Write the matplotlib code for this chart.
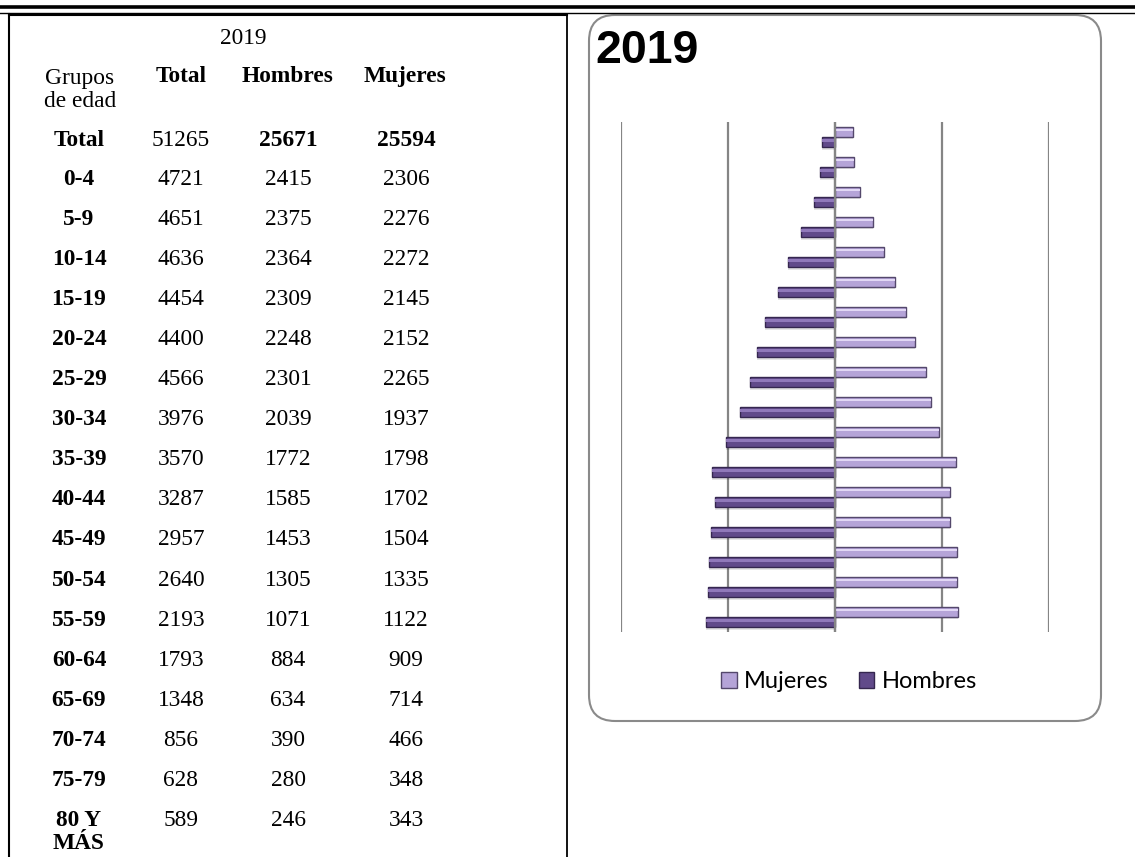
import matplotlib
matplotlib.use("Agg")
import matplotlib.pyplot as plt
from matplotlib.patches import FancyBboxPatch, Patch
from matplotlib.lines import Line2D

# ---------------- data ----------------
age_groups = ['0-4', '5-9', '10-14', '15-19', '20-24', '25-29', '30-34', '35-39',
              '40-44', '45-49', '50-54', '55-59', '60-64', '65-69', '70-74',
              '75-79', '80 Y\nMÁS']
total = [4721, 4651, 4636, 4454, 4400, 4566, 3976, 3570, 3287, 2957, 2640,
         2193, 1793, 1348, 856, 628, 589]
hombres = [2415, 2375, 2364, 2309, 2248, 2301, 2039, 1772, 1585, 1453, 1305,
           1071, 884, 634, 390, 280, 246]
mujeres = [2306, 2276, 2272, 2145, 2152, 2265, 1937, 1798, 1702, 1504, 1335,
           1122, 909, 714, 466, 348, 343]
total_row = ['Total', '51265', '25671', '25594']
year = '2019'
headers = ['Total', 'Hombres', 'Mujeres']
legend_labels = ['Mujeres', 'Hombres']

W, H = 1135, 857
fig = plt.figure(figsize=(W / 100, H / 100), dpi=100)
fig.patch.set_facecolor('white')

# overlay axes in pixel coordinates
ov = fig.add_axes([0, 0, 1, 1])
ov.set_xlim(0, W)
ov.set_ylim(H, 0)
ov.axis('off')

# top double rule
ov.add_line(Line2D([0, W], [7, 7], color='black', lw=2.6))
ov.add_line(Line2D([0, W], [13, 13], color='black', lw=1.0))
# table borders
ov.add_line(Line2D([9, 9], [14, H], color='black', lw=1.5))
ov.add_line(Line2D([9, 567], [14.5, 14.5], color='black', lw=1.5))
ov.add_line(Line2D([567, 567], [14, H], color='black', lw=1.3))

serif = 'Liberation Serif'
fs = 16.8
ov.text(243, 38, year, family=serif, fontsize=fs, ha='center', va='center')
ov.text(80, 78, 'Grupos', family=serif, fontsize=fs, ha='center', va='center')
ov.text(80, 101, 'de edad', family=serif, fontsize=fs, ha='center', va='center')
hx = [181, 288, 405]
for x, h in zip(hx, headers):
    ov.text(x, 76, h, family=serif, fontsize=fs, weight='bold', ha='center', va='center')

cx = [79, 181, 288, 406]
ty = 140
ov.text(cx[0], ty, total_row[0], family=serif, fontsize=fs, weight='bold', ha='center', va='center')
ov.text(cx[1], ty, total_row[1], family=serif, fontsize=fs, ha='center', va='center')
ov.text(cx[2], ty, total_row[2], family=serif, fontsize=fs, weight='bold', ha='center', va='center')
ov.text(cx[3], ty, total_row[3], family=serif, fontsize=fs, weight='bold', ha='center', va='center')

y0, dy = 179, 40.1
for i, (a, t, hm, mj) in enumerate(zip(age_groups, total, hombres, mujeres)):
    y = y0 + dy * i
    if '\n' in a:
        l1, l2 = a.split('\n')
        ov.text(cx[0], y, l1, family=serif, fontsize=fs, weight='bold', ha='center', va='center')
        ov.text(cx[0], y + 23, l2, family=serif, fontsize=fs, weight='bold', ha='center', va='center')
    else:
        ov.text(cx[0], y, a, family=serif, fontsize=fs, weight='bold', ha='center', va='center')
    ov.text(cx[1], y, str(t), family=serif, fontsize=fs, ha='center', va='center')
    ov.text(cx[2], y, str(hm), family=serif, fontsize=fs, ha='center', va='center')
    ov.text(cx[3], y, str(mj), family=serif, fontsize=fs, ha='center', va='center')

# chart frame (rounded)
box = FancyBboxPatch((589, 15), 512, 706, boxstyle='round,pad=0,rounding_size=26',
                     facecolor='white', edgecolor='#8a8a8a', lw=1.5, zorder=0)
ov.add_patch(box)
ov.text(595, 51, year, family='Liberation Sans', weight='bold', fontsize=33.5,
        ha='left', va='center')

# ---------------- pyramid chart ----------------
L, R, T, B = 621, 1049, 122, 632
ax = fig.add_axes([L / W, (H - B) / H, (R - L) / W, (B - T) / H])
ax.set_facecolor('none')
ax.set_xlim(-4000, 4000)
ax.set_ylim(-0.5, len(age_groups) - 0.5)
for s in ax.spines.values():
    s.set_visible(False)
ax.set_xticks([-4000, -2000, 0, 2000, 4000])
ax.set_yticks([])
ax.tick_params(axis='x', length=0, labelbottom=False)
ax.grid(axis='x', color='#858585', lw=1.6)
ax.set_axisbelow(True)

pos = list(range(len(age_groups)))
hgt = 0.34
off = 0.17
neg_h = [-v for v in hombres]
pm = [p + off for p in pos]
ph = [p - off for p in pos]

c_muj, c_muj_hi, c_muj_dk = '#b5a4d8', '#e2d8f5', '#54486c'
c_hom, c_hom_hi, c_hom_dk = '#614a8a', '#9079ba', '#35274f'

# soft shadows
ax.barh([p - 0.08 for p in pm], mujeres, height=hgt, color='#000000', alpha=0.10, lw=0, zorder=2)
ax.barh([p - 0.08 for p in ph], neg_h, height=hgt, color='#000000', alpha=0.10, lw=0, zorder=2)
# main bars
ax.barh(pm, mujeres, height=hgt, color=c_muj, edgecolor=c_muj_dk, lw=1.0, zorder=3)
ax.barh(ph, neg_h, height=hgt, color=c_hom, edgecolor=c_hom_dk, lw=1.0, zorder=3)
# highlights (bevel)
ax.barh([p + 0.065 for p in pm], mujeres, height=0.09, color=c_muj_hi, lw=0, zorder=4)
ax.barh([p + 0.065 for p in ph], neg_h, height=0.09, color=c_hom_hi, lw=0, zorder=4)
ax.axvline(0, color='#858585', lw=1.6, zorder=5)

handles = [Patch(facecolor=c_muj, edgecolor=c_muj_dk), Patch(facecolor=c_hom, edgecolor=c_hom_dk)]
fig.legend(handles, legend_labels, loc='center', bbox_to_anchor=(849 / W, 1 - 682 / H),
           ncol=2, frameon=False, prop={'family': 'Lato', 'size': 17},
           handlelength=0.65, handleheight=0.65, handletextpad=0.3, columnspacing=1.3)

fig.savefig('out.png', dpi=100, facecolor='white')
